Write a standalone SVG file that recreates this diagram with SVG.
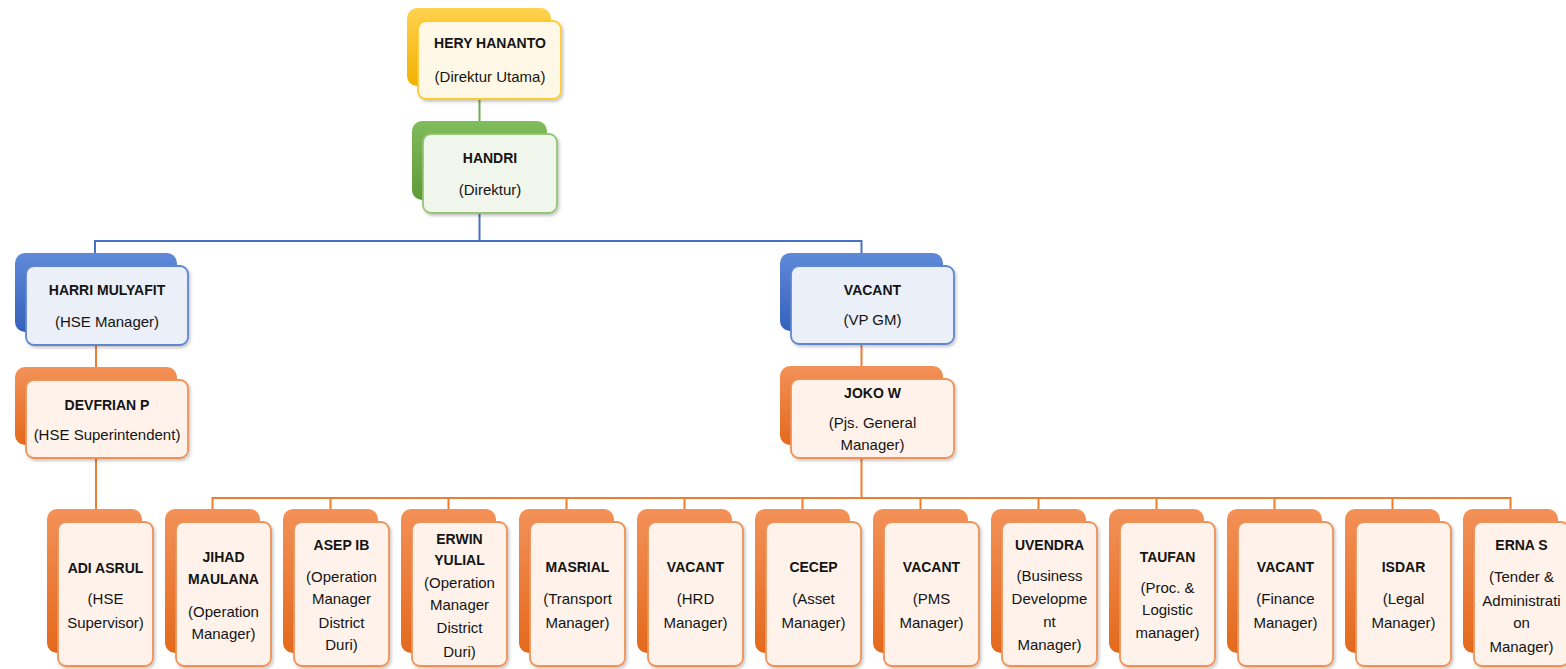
<svg xmlns="http://www.w3.org/2000/svg" width="1566" height="669" viewBox="0 0 1566 669">
  <defs>
    <linearGradient id="gYellow" x1="0" y1="0" x2="0" y2="1">
      <stop offset="0" stop-color="#FFD24F"/>
      <stop offset="1" stop-color="#F2B100"/>
    </linearGradient>
    <linearGradient id="gGreen" x1="0" y1="0" x2="0" y2="1">
      <stop offset="0" stop-color="#80BD5A"/>
      <stop offset="1" stop-color="#5E9B38"/>
    </linearGradient>
    <linearGradient id="gBlue" x1="0" y1="0" x2="0" y2="1">
      <stop offset="0" stop-color="#5F89D8"/>
      <stop offset="1" stop-color="#3561BC"/>
    </linearGradient>
    <linearGradient id="gOrange" x1="0" y1="0" x2="0" y2="1">
      <stop offset="0" stop-color="#F39158"/>
      <stop offset="1" stop-color="#E4691C"/>
    </linearGradient>
    <filter id="shadow" x="-10%" y="-10%" width="125%" height="125%">
      <feDropShadow dx="1.5" dy="2" stdDeviation="1.5" flood-color="#000" flood-opacity="0.22"/>
    </filter>
  </defs>
  <style>
    .back { rx: 10px; ry: 10px; }
    .front { rx: 8px; ry: 8px; stroke-width: 1.8; filter: url(#shadow); }
    .y .back { fill: url(#gYellow); }
    .y .front { fill: #FFF8E6; stroke: #FFC933; }
    .g .back { fill: url(#gGreen); }
    .g .front { fill: #F0F6EB; stroke: #94C474; }
    .b .back { fill: url(#gBlue); }
    .b .front { fill: #EAEFF8; stroke: #5F86D0; }
    .o .back { fill: url(#gOrange); }
    .o .front { fill: #FEF2EA; stroke: #EF9257; }
    text { font-family: "Liberation Sans", Arial, sans-serif; fill: #141414; text-anchor: middle; }
    .nm { font-size: 14px; font-weight: bold; }
    .rl { font-size: 15px; }
    .conn { fill: none; stroke-width: 2; }
    .cg { stroke: #70AD47; }
    .cb { stroke: #4472C4; }
    .co { stroke: #ED7D31; }
  </style>

  <rect width="1566" height="669" fill="#FFFFFF"/>

  <!-- connectors -->
  <g id="connectors">
    <path class="conn cg" d="M479.5 99 V121"/>
    <path class="conn cb" d="M479.5 213 V241 M95 241 H862 M95 240 V253 M861.5 240 V253"/>
    <path class="conn co" d="M96 345 V367 M861.5 344 V366 M96 458 V509"/>
    <path class="conn co" d="M861.5 458 V498 M212.5 498 H1510.5"/>
    <path class="conn co" d="M212.5 497 V509 M330.5 497 V509 M448.5 497 V509 M566.5 497 V509 M684.5 497 V509 M802.5 497 V509 M920.5 497 V509 M1038.5 497 V509 M1156.5 497 V509 M1274.5 497 V509 M1392.5 497 V509 M1510.5 497 V509"/>
  </g>

  <!-- top level -->
  <g id="node-hery" class="y">
    <rect class="back" x="407" y="8" width="144" height="78"/>
    <rect class="front" x="418" y="21" width="143" height="78"/>
    <text class="nm" x="490" y="48">HERY HANANTO</text>
    <text class="rl" x="490" y="82">(Direktur Utama)</text>
  </g>

  <g id="node-handri" class="g">
    <rect class="back" x="412" y="121" width="135" height="79"/>
    <rect class="front" x="423" y="134" width="134" height="79"/>
    <text class="nm" x="490" y="163">HANDRI</text>
    <text class="rl" x="490" y="195">(Direktur)</text>
  </g>

  <g id="node-harri" class="b">
    <rect class="back" x="15" y="253" width="162" height="79"/>
    <rect class="front" x="26" y="266" width="162" height="79"/>
    <text class="nm" x="107" y="295">HARRI MULYAFIT</text>
    <text class="rl" x="107" y="327">(HSE Manager)</text>
  </g>

  <g id="node-vacant-vp" class="b">
    <rect class="back" x="780" y="253" width="163" height="78"/>
    <rect class="front" x="791" y="266" width="163" height="78"/>
    <text class="nm" x="872.5" y="295">VACANT</text>
    <text class="rl" x="872.5" y="325">(VP GM)</text>
  </g>

  <g id="node-devfrian" class="o">
    <rect class="back" x="15" y="367" width="162" height="78"/>
    <rect class="front" x="26" y="380" width="162" height="78"/>
    <text class="nm" x="107" y="410">DEVFRIAN P</text>
    <text class="rl" x="107" y="440">(HSE Superintendent)</text>
  </g>

  <g id="node-joko" class="o">
    <rect class="back" x="780" y="366" width="163" height="79"/>
    <rect class="front" x="791" y="379" width="163" height="79"/>
    <text class="nm" x="872.5" y="398">JOKO W</text>
    <text class="rl" x="872.5" y="428">(Pjs. General</text>
    <text class="rl" x="872.5" y="450">Manager)</text>
  </g>

  <!-- bottom row -->
  <g id="node-adi" class="o">
    <rect class="back" x="47" y="509" width="95" height="144"/>
    <rect class="front" x="58" y="522" width="95" height="144"/>
    <text class="nm" x="105.5" y="573">ADI ASRUL</text>
    <text class="rl" x="105.5" y="604">(HSE</text>
    <text class="rl" x="105.5" y="628">Supervisor)</text>
  </g>

  <g id="node-jihad" class="o">
    <rect class="back" x="165" y="509" width="95" height="144"/>
    <rect class="front" x="176" y="522" width="95" height="144"/>
    <text class="nm" x="223.5" y="562">JIHAD</text>
    <text class="nm" x="223.5" y="584">MAULANA</text>
    <text class="rl" x="223.5" y="617">(Operation</text>
    <text class="rl" x="223.5" y="639">Manager)</text>
  </g>

  <g id="node-asep" class="o">
    <rect class="back" x="283" y="509" width="95" height="144"/>
    <rect class="front" x="294" y="522" width="95" height="144"/>
    <text class="nm" x="341.5" y="550">ASEP IB</text>
    <text class="rl" x="341.5" y="582">(Operation</text>
    <text class="rl" x="341.5" y="604">Manager</text>
    <text class="rl" x="341.5" y="628">District</text>
    <text class="rl" x="341.5" y="650">Duri)</text>
  </g>

  <g id="node-erwin" class="o">
    <rect class="back" x="401" y="509" width="95" height="144"/>
    <rect class="front" x="412" y="522" width="95" height="144"/>
    <text class="nm" x="459.5" y="544">ERWIN</text>
    <text class="nm" x="459.5" y="565">YULIAL</text>
    <text class="rl" x="459.5" y="588">(Operation</text>
    <text class="rl" x="459.5" y="610">Manager</text>
    <text class="rl" x="459.5" y="633">District</text>
    <text class="rl" x="459.5" y="657">Duri)</text>
  </g>

  <g id="node-masrial" class="o">
    <rect class="back" x="519" y="509" width="95" height="144"/>
    <rect class="front" x="530" y="522" width="95" height="144"/>
    <text class="nm" x="577.5" y="572">MASRIAL</text>
    <text class="rl" x="577.5" y="604">(Transport</text>
    <text class="rl" x="577.5" y="628">Manager)</text>
  </g>

  <g id="node-vacant-hrd" class="o">
    <rect class="back" x="637" y="509" width="95" height="144"/>
    <rect class="front" x="648" y="522" width="95" height="144"/>
    <text class="nm" x="695.5" y="572">VACANT</text>
    <text class="rl" x="695.5" y="604">(HRD</text>
    <text class="rl" x="695.5" y="628">Manager)</text>
  </g>

  <g id="node-cecep" class="o">
    <rect class="back" x="755" y="509" width="95" height="144"/>
    <rect class="front" x="766" y="522" width="95" height="144"/>
    <text class="nm" x="813.5" y="572">CECEP</text>
    <text class="rl" x="813.5" y="604">(Asset</text>
    <text class="rl" x="813.5" y="628">Manager)</text>
  </g>

  <g id="node-vacant-pms" class="o">
    <rect class="back" x="873" y="509" width="95" height="144"/>
    <rect class="front" x="884" y="522" width="95" height="144"/>
    <text class="nm" x="931.5" y="572">VACANT</text>
    <text class="rl" x="931.5" y="604">(PMS</text>
    <text class="rl" x="931.5" y="628">Manager)</text>
  </g>

  <g id="node-uvendra" class="o">
    <rect class="back" x="991" y="509" width="95" height="144"/>
    <rect class="front" x="1002" y="522" width="95" height="144"/>
    <text class="nm" x="1049.5" y="550">UVENDRA</text>
    <text class="rl" x="1049.5" y="581">(Business</text>
    <text class="rl" x="1049.5" y="604">Developme</text>
    <text class="rl" x="1049.5" y="627">nt</text>
    <text class="rl" x="1049.5" y="650">Manager)</text>
  </g>

  <g id="node-taufan" class="o">
    <rect class="back" x="1109" y="509" width="95" height="144"/>
    <rect class="front" x="1120" y="522" width="95" height="144"/>
    <text class="nm" x="1167.5" y="562">TAUFAN</text>
    <text class="rl" x="1167.5" y="593">(Proc. &amp;</text>
    <text class="rl" x="1167.5" y="615">Logistic</text>
    <text class="rl" x="1167.5" y="638">manager)</text>
  </g>

  <g id="node-vacant-finance" class="o">
    <rect class="back" x="1227" y="509" width="95" height="144"/>
    <rect class="front" x="1238" y="522" width="95" height="144"/>
    <text class="nm" x="1285.5" y="572">VACANT</text>
    <text class="rl" x="1285.5" y="604">(Finance</text>
    <text class="rl" x="1285.5" y="628">Manager)</text>
  </g>

  <g id="node-isdar" class="o">
    <rect class="back" x="1345" y="509" width="95" height="144"/>
    <rect class="front" x="1356" y="522" width="95" height="144"/>
    <text class="nm" x="1403.5" y="572">ISDAR</text>
    <text class="rl" x="1403.5" y="604">(Legal</text>
    <text class="rl" x="1403.5" y="628">Manager)</text>
  </g>

  <g id="node-erna" class="o">
    <rect class="back" x="1463" y="509" width="95" height="144"/>
    <rect class="front" x="1474" y="522" width="95" height="144"/>
    <text class="nm" x="1521.5" y="550">ERNA S</text>
    <text class="rl" x="1521.5" y="582">(Tender &amp;</text>
    <text class="rl" x="1521.5" y="606">Administrati</text>
    <text class="rl" x="1521.5" y="628">on</text>
    <text class="rl" x="1521.5" y="652">Manager)</text>
  </g>
</svg>
